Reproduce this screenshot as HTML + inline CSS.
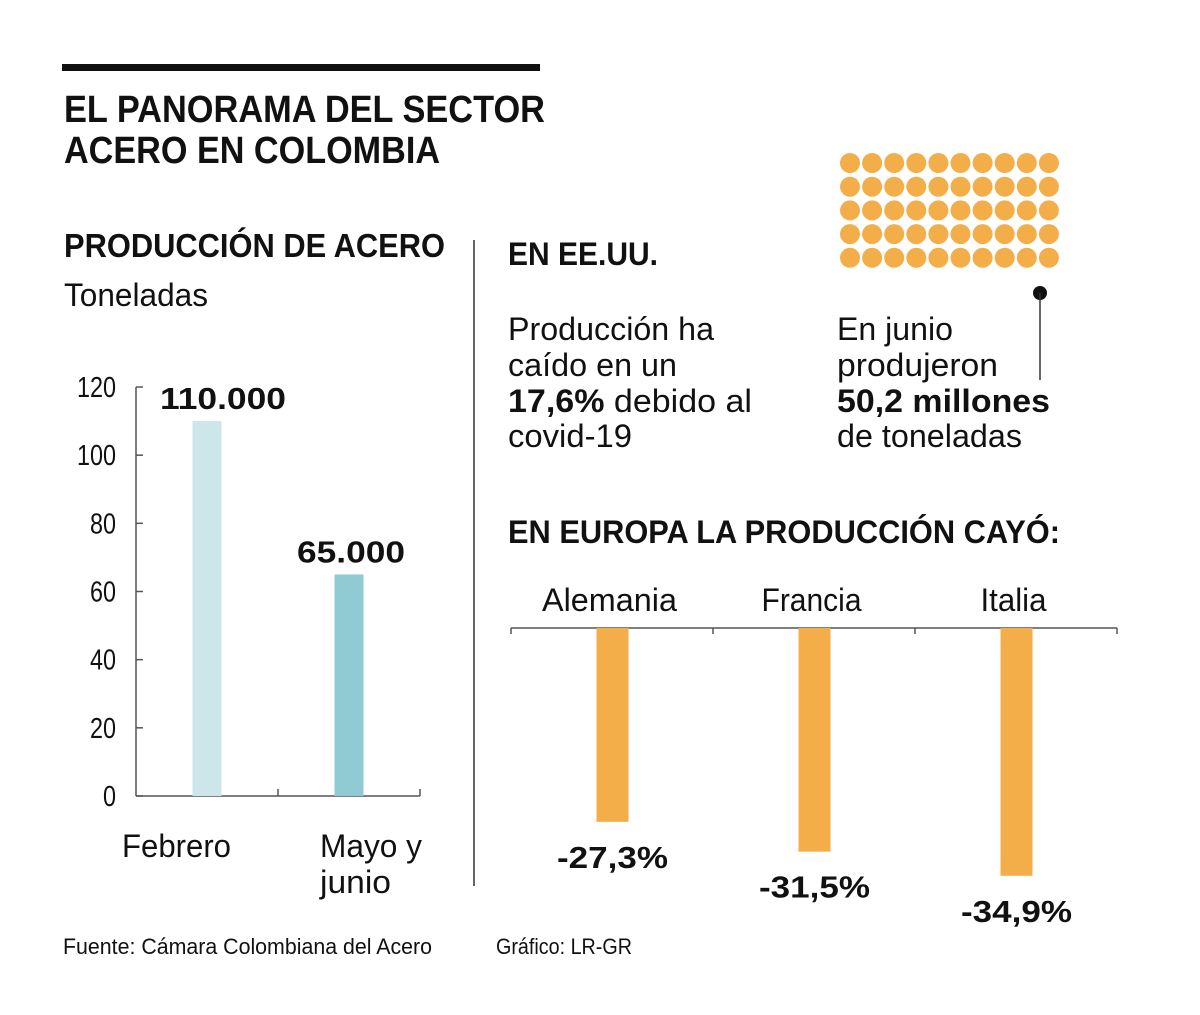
<!DOCTYPE html>
<html><head><meta charset="utf-8"><style>
html,body{margin:0;padding:0;background:#fff}
svg{display:block}
text{font-family:"Liberation Sans",sans-serif;fill:#111}
.b{font-weight:bold}
</style></head><body>
<svg id="s" width="1200" height="1015" viewBox="0 0 1200 1015" xmlns="http://www.w3.org/2000/svg">
<rect x="62" y="64" width="478" height="7" fill="#111"/>
<text class="b" x="64" y="122" font-size="38" textLength="481" lengthAdjust="spacingAndGlyphs">EL PANORAMA DEL SECTOR</text>
<text class="b" x="64" y="163" font-size="38" textLength="376" lengthAdjust="spacingAndGlyphs">ACERO EN COLOMBIA</text>
<text class="b" x="64" y="257" font-size="33" textLength="381" lengthAdjust="spacingAndGlyphs">PRODUCCIÓN DE ACERO</text>
<text x="64" y="306" font-size="32" textLength="144" lengthAdjust="spacingAndGlyphs">Toneladas</text>
<g id="left-chart"></g>
<line x1="474" y1="240" x2="474" y2="886" stroke="#333" stroke-width="1.5"/>
<text class="b" x="508" y="265" font-size="32" textLength="150" lengthAdjust="spacingAndGlyphs">EN EE.UU.</text>
<g font-size="32">
<text x="508" y="340" textLength="206" lengthAdjust="spacingAndGlyphs">Producción ha</text>
<text x="508" y="376" textLength="169" lengthAdjust="spacingAndGlyphs">caído en un</text>
<text x="508" y="412" textLength="244" lengthAdjust="spacingAndGlyphs"><tspan class="b">17,6%</tspan> debido al</text>
<text x="508" y="447" textLength="124" lengthAdjust="spacingAndGlyphs">covid-19</text>
<text x="837" y="340" textLength="116" lengthAdjust="spacingAndGlyphs">En junio</text>
<text x="837" y="376" textLength="161" lengthAdjust="spacingAndGlyphs">produjeron</text>
<text class="b" x="837" y="412" textLength="213" lengthAdjust="spacingAndGlyphs">50,2 millones</text>
<text x="837" y="447" textLength="185" lengthAdjust="spacingAndGlyphs">de toneladas</text>
</g>
<g id="dots"></g>
<circle cx="1040" cy="293" r="7" fill="#111"/>
<line x1="1040" y1="293" x2="1040" y2="380" stroke="#333" stroke-width="1.5"/>
<text class="b" x="508" y="543" font-size="32" textLength="552" lengthAdjust="spacingAndGlyphs">EN EUROPA LA PRODUCCIÓN CAYÓ:</text>
<g id="right-chart"></g>
<text x="63" y="954" font-size="22" textLength="369" lengthAdjust="spacingAndGlyphs" fill="#222">Fuente: Cámara Colombiana del Acero</text>
<text x="496" y="954" font-size="22" textLength="136" lengthAdjust="spacingAndGlyphs" fill="#222">Gráfico: LR-GR</text>
</svg>
<script>
const NS="http://www.w3.org/2000/svg";
const leftCats=["Febrero","Mayo y junio"];
const leftVals=[110,65];
const leftLabels=["110.000","65.000"];
const leftTicks=[0,20,40,60,80,100,120];
const euCats=["Alemania","Francia","Italia"];
const euVals=[-27.3,-31.5,-34.9];
const euLabels=["-27,3%","-31,5%","-34,9%"];
function mk(p,tag,attrs,txt){const e=document.createElementNS(NS,tag);for(const k in attrs)e.setAttribute(k,attrs[k]);if(txt!=null)e.textContent=txt;p.appendChild(e);return e;}
// left chart
const L=document.getElementById('left-chart');
const y0=796,yTop=387,yMax=120;
const yL=v=>y0-(v/yMax)*(y0-yTop);
const ax=mk(L,'line',{x1:136,y1:yTop,x2:136,y2:y0,stroke:'#555','stroke-width':1.5});

const bx=mk(L,'line',{x1:136,y1:y0,x2:420,y2:y0,stroke:'#555','stroke-width':1.5});

[278,420].forEach(x=>{const t=mk(L,'line',{x1:x,y1:y0-7,x2:x,y2:y0,stroke:'#555','stroke-width':1.5});
});
leftTicks.forEach(v=>{const y=yL(v);
const t=mk(L,'line',{x1:136,y1:y,x2:143,y2:y,stroke:'#555','stroke-width':1.5});

const tx=mk(L,'text',{x:116,y:y+10,'font-size':29,'text-anchor':'end',fill:'#222',textLength:String(v).length*13,lengthAdjust:'spacingAndGlyphs'},String(v));
});
const lColors=['#cce6ea','#90cbd3'];
const lX=[207,349];
const lLabelOff=[16,2];
leftVals.forEach((v,i)=>{const y=yL(v);
const r=mk(L,'rect',{x:lX[i]-14.5,y:y,width:29,height:y0-y,fill:lColors[i]});

const t=mk(L,'text',{x:lX[i]+lLabelOff[i],y:y-12,'font-size':31,'font-weight':'bold','text-anchor':'middle',textLength:leftLabels[i].length*18,lengthAdjust:'spacingAndGlyphs'},leftLabels[i]);
});
const c1=mk(L,'text',{x:122,y:857,'font-size':32,textLength:109,lengthAdjust:'spacingAndGlyphs'},leftCats[0]);

const parts=leftCats[1].split(' ');
const c2=mk(L,'text',{x:320,y:857,'font-size':32,textLength:102,lengthAdjust:'spacingAndGlyphs'},parts[0]+' '+parts[1]);

const c3=mk(L,'text',{x:320,y:893,'font-size':32,textLength:71,lengthAdjust:'spacingAndGlyphs'},parts[2]);

// dots
const D=document.getElementById('dots');
for(let r=0;r<5;r++)for(let c=0;c<10;c++){const d=mk(D,'circle',{cx:850+c*22.1,cy:163+r*23.7,r:10,fill:'#f3ae49'});
}
// europe chart
const R=document.getElementById('right-chart');
const base=628,ppu=7.1,x0=511,step=202;
const yE=v=>base-v*ppu;
const bl=mk(R,'line',{x1:x0,y1:base,x2:x0+step*3,y2:base,stroke:'#555','stroke-width':1.5});

for(let i=0;i<=3;i++){const t=mk(R,'line',{x1:x0+i*step,y1:base,x2:x0+i*step,y2:base+6,stroke:'#555','stroke-width':1.5});
}
const catW=[135,100,66];
euVals.forEach((v,i)=>{const cx=x0+step*i+step/2+0.5;
const r=mk(R,'rect',{x:cx-16,y:base,width:32,height:yE(v)-base,fill:'#f3ae49'});

const c=mk(R,'text',{x:cx-3,y:611,'font-size':32,'text-anchor':'middle',textLength:catW[i],lengthAdjust:'spacingAndGlyphs'},euCats[i]);

const t=mk(R,'text',{x:cx,y:yE(v)+46,'font-size':31,'font-weight':'bold','text-anchor':'middle',textLength:111,lengthAdjust:'spacingAndGlyphs'},euLabels[i]);
});
</script>
</body></html>
